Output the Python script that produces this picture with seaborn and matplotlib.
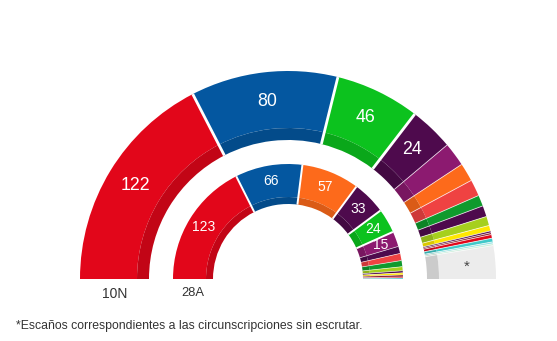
import numpy as np
import matplotlib
matplotlib.use("Agg")
import matplotlib.pyplot as plt
import matplotlib.colors as mcolors
from matplotlib.patches import Wedge
import seaborn as sns

# Party colours
COL = {
    "red": "#e2061a",
    "blue": "#0457a0",
    "green": "#0cc21e",
    "dpurple": "#4e0a4d",
    "magenta": "#8c1a70",
    "orange": "#fd6a1b",
    "coral": "#ef4242",
    "dgreen": "#0f9a2d",
    "ygreen": "#a6d01d",
    "yellow": "#ffe800",
    "maroon": "#8a1a2c",
    "cyan": "#40c9c9",
    "lcyan": "#92e2e2",
    "mint": "#cdeedb",
    "gray": "#ececec",
}

# 10N (outer ring): seats per segment, left to right
outer_seats = [122, 80, 46, 24, 13, 10, 9, 6, 6, 5, 3, 1, 1, 2, 2, 1, 1, 18]
outer_colors = ["red", "blue", "green", "dpurple", "magenta", "orange", "coral",
                "dgreen", "dpurple", "ygreen", "yellow", "dpurple", "maroon",
                "red", "cyan", "lcyan", "mint", "gray"]
outer_labeled = 4  # first segments that carry their seat count

# 28A (inner ring): seats per segment, left to right
inner_seats = [123, 66, 57, 33, 24, 15, 7, 7, 6, 4, 2, 2, 2, 1, 1]
inner_colors = ["red", "blue", "orange", "dpurple", "green", "magenta", "dpurple",
                "coral", "dgreen", "ygreen", "dpurple", "yellow", "maroon",
                "red", "cyan"]
inner_labeled = 6

ring_names = ["10N", "28A"]
footnote = "*Escaños correspondientes a las circunscripciones sin escrutar."

sns.set_theme(style="white")
plt.rcParams["font.family"] = ["Liberation Sans", "DejaVu Sans"]

W, H = 557, 341
fig = plt.figure(figsize=(W / 100, H / 100), dpi=100)
ax = fig.add_axes([0, 0, 1, 1])
ax.set_xlim(0, W)
ax.set_ylim(0, H)
ax.set_aspect("equal")
ax.axis("off")

cx, cy = 288, H - 279


def darker(c, f=0.86):
    r, g, b = mcolors.to_rgb(COL[c])
    return (r * f, g * f, b * f)


def ring(seats, colors, n_lab, r_out, r_in, band, lab_r, fs, lw_main, lw_small):
    total = sum(seats)
    edges = 180 - np.concatenate([[0], np.cumsum(seats)]) / total * 180
    for i, (s, c) in enumerate(zip(seats, colors)):
        t2, t1 = edges[i], edges[i + 1]
        ax.add_patch(Wedge((cx, cy), r_out, t1, t2, width=r_out - r_in - band,
                           facecolor=COL[c], edgecolor="none"))
        ax.add_patch(Wedge((cx, cy), r_in + band, t1, t2, width=band,
                           facecolor=darker(c), edgecolor="none"))
        mid = np.deg2rad((t1 + t2) / 2)
        if i < n_lab:
            ax.text(cx + lab_r * np.cos(mid), cy + lab_r * np.sin(mid), str(s),
                    ha="center", va="center", color="white", fontsize=fs)
        elif c == "gray":
            ax.text(cx + lab_r * np.cos(mid), cy + lab_r * np.sin(mid) - 2, "*",
                    ha="center", va="center", color="#444444", fontsize=fs * 0.85)
    # separators between segments
    for j in range(1, len(seats)):
        th = np.deg2rad(edges[j])
        main = j < n_lab
        ax.plot([cx + r_in * np.cos(th), cx + r_out * np.cos(th)],
                [cy + r_in * np.sin(th), cy + r_out * np.sin(th)],
                color="white", lw=lw_main if main else lw_small,
                alpha=1.0 if main else 0.75, solid_capstyle="butt")


# outer ring (10N)
ring(outer_seats, outer_colors, outer_labeled, r_out=208, r_in=139, band=12,
     lab_r=179, fs=12.8, lw_main=2.0, lw_small=0.6)
# inner ring (28A)
ring(inner_seats, inner_colors, inner_labeled, r_out=115, r_in=75, band=7,
     lab_r=99, fs=10, lw_main=1.4, lw_small=0.5)

# ring names under the left ends
ax.text(cx - (208 + 139) / 2, H - 294, ring_names[0], ha="center", va="center",
        fontsize=10, color="#333333")
ax.text(cx - (115 + 75) / 2, H - 293, ring_names[1], ha="center", va="center",
        fontsize=9.3, color="#333333")

ax.text(16, H - 326, footnote, ha="left", va="center", fontsize=8.8, color="#333333")

fig.savefig("out.png", dpi=100)
